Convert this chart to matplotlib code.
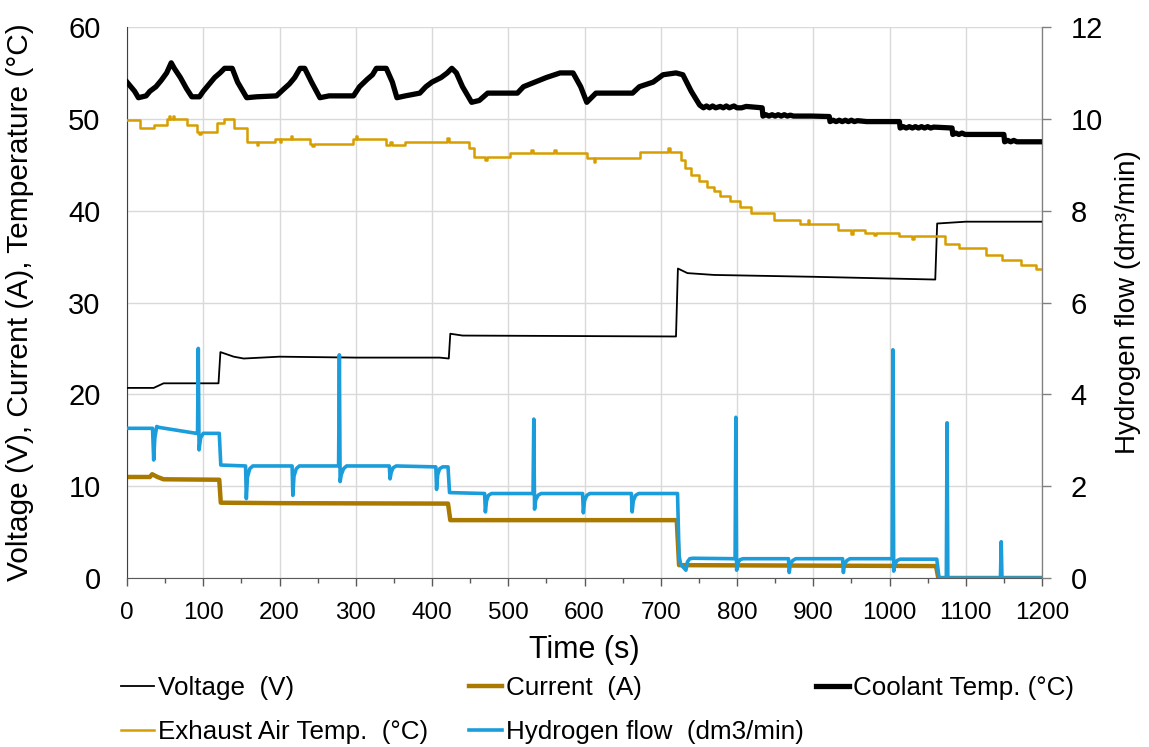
import matplotlib
matplotlib.use("Agg")
import matplotlib.pyplot as plt
from matplotlib.ticker import MultipleLocator

plt.rcParams['font.family'] = ['Liberation Sans', 'DejaVu Sans']

# ---------------- data ----------------
coolant_t = [0, 5, 10, 15, 25, 30, 38, 45, 52, 58, 62, 70, 78, 85, 95, 100, 108, 115, 122, 128,
             138, 145, 152, 157, 170, 196, 205, 213, 220, 227, 233, 242, 253, 265, 297, 305, 315,
             322, 327, 340, 348, 354, 365, 384, 392, 400, 412, 420, 426, 432, 440, 452, 462, 473,
             512, 520, 535, 550, 568, 585, 595, 603, 615, 663, 672, 690, 703, 720, 729, 740, 751,
             756, 760, 764, 768, 772, 778, 782, 786, 790, 796, 800, 806, 812, 833,
             834, 838, 842, 846, 850, 854, 858, 862, 866, 870, 874, 898, 921,
             922, 926, 930, 934, 938, 942, 946, 950, 954, 958, 970, 1013,
             1014, 1018, 1022, 1026, 1030, 1034, 1038, 1042, 1046, 1050, 1054, 1058, 1082,
             1083, 1087, 1091, 1095, 1099, 1150,
             1151, 1155, 1159, 1163, 1167, 1171, 1200]
coolant_v = [54.0, 53.5, 53.0, 52.3, 52.5, 53.0, 53.5, 54.2, 55.0, 56.1, 55.5, 54.5, 53.3, 52.4,
             52.4, 53.0, 53.8, 54.5, 55.0, 55.5, 55.5, 54.0, 53.0, 52.3, 52.4, 52.5, 53.2, 53.8,
             54.5, 55.5, 55.5, 54.0, 52.3, 52.5, 52.5, 53.5, 54.3, 54.8, 55.5, 55.5, 54.0, 52.3,
             52.5, 52.8, 53.5, 54.0, 54.5, 55.0, 55.5, 55.0, 53.5, 51.8, 52.0, 52.8, 52.8, 53.5,
             54.0, 54.5, 55.0, 55.0, 53.5, 51.8, 52.8, 52.8, 53.5, 54.0, 54.8, 55.0, 54.8, 53.0,
             51.5,
             51.2, 51.4, 51.2, 51.4, 51.2, 51.35, 51.2, 51.4, 51.2, 51.4, 51.2, 51.2, 51.35, 51.2,
             50.3, 50.45, 50.3, 50.45, 50.3, 50.45, 50.3, 50.45, 50.3, 50.4, 50.3, 50.3, 50.25,
             49.7, 49.85, 49.7, 49.85, 49.7, 49.85, 49.7, 49.85, 49.7, 49.8, 49.7, 49.7,
             49.0, 49.15, 49.0, 49.15, 49.0, 49.15, 49.0, 49.15, 49.0, 49.15, 49.0, 49.1, 49.0,
             48.3, 48.45, 48.3, 48.45, 48.3, 48.3,
             47.5, 47.65, 47.5, 47.65, 47.5, 47.5, 47.5]

exhaust_t = [0, 17, 35, 52, 55, 57, 60, 62, 79, 92, 95, 97, 118, 127, 140, 157, 170, 172, 194,
             200, 202, 215, 217, 240, 243, 245, 297, 300, 302, 340, 345, 347, 365, 420, 422,
             449, 455, 470, 472, 502, 530, 532, 560, 562, 603, 612, 614, 673, 710, 712,
             727, 732, 740, 750, 760, 770, 778, 791, 804, 818, 848, 883, 893, 895, 933, 950, 952,
             968, 980, 982, 1012, 1030, 1032, 1073, 1091, 1126, 1148, 1172, 1192, 1200]
exhaust_v = [49.9, 49.0, 49.3, 50.0, 50.3, 50.0, 50.3, 50.0, 49.3, 48.6, 48.3, 48.6, 49.5, 50.0,
             49.0, 47.5, 47.1, 47.5, 47.8, 47.5, 47.8, 48.1, 47.8, 47.3, 47.0, 47.3, 47.8, 48.1,
             47.8, 47.1, 47.5, 47.1, 47.5, 47.9, 47.5, 46.8, 45.8, 45.5, 45.8, 46.25, 46.6,
             46.25, 46.6, 46.25, 45.7, 45.3, 45.7, 46.4, 46.8, 46.4,
             45.5, 44.6, 43.9, 43.2, 42.6, 42.1, 41.6, 41.0, 40.45, 39.8, 39.0, 38.6, 39.0, 38.6,
             37.9, 37.5, 37.9, 37.6, 37.3, 37.6, 37.2, 36.9, 37.2, 36.4, 35.9, 35.2, 34.6, 34.1,
             33.7, 33.7]

voltage_t = [0, 35, 48, 120, 122.5, 140, 153, 200, 300, 410, 422, 424, 440, 720, 722.5, 735,
             770, 900, 1060, 1062.5, 1100, 1200]
voltage_v = [20.7, 20.7, 21.2, 21.2, 24.6, 24.1, 23.9, 24.1, 24.0, 24.0, 23.9, 26.6, 26.4, 26.3,
             33.7, 33.2, 33.0, 32.8, 32.5, 38.6, 38.8, 38.8]

current_t = [0, 30, 33, 40, 48, 121, 123, 200, 421, 424, 721, 724, 1061, 1064, 1200]
current_v = [11.0, 11.0, 11.3, 11.0, 10.75, 10.7, 8.2, 8.15, 8.1, 6.3, 6.3, 1.4, 1.3, 0.0, 0.0]

h2_t = [0, 33.5, 35, 36.5, 39, 42, 91, 92.5, 93.5, 94.5, 96.5, 100, 121, 123,
        155.5, 156.5, 158, 161, 165, 216.5, 217.5, 219, 222, 226,
        277.5, 278.5, 279.5, 281, 284, 288, 344, 345, 346.5, 349, 353,
        405, 406, 407.5, 410, 414, 421, 423,
        469, 470, 471.5, 474, 478, 532.5, 533.5, 534.5, 536, 539, 543,
        597.5, 598.5, 600, 603, 607, 661.5, 662.5, 664, 667, 671,
        722, 724, 726, 733, 735, 738, 742,
        797.5, 798.5, 799.5, 801, 804, 808, 867.5, 868.5, 870, 873, 877,
        938.5, 939.5, 941, 944, 948, 1003.5, 1004.5, 1005.5, 1007, 1010, 1014,
        1062, 1065, 1074.5, 1075.5, 1076.5, 1145.5, 1146.5, 1147.5, 1200]
h2_v = [3.26, 3.26, 2.57, 3.05, 3.3, 3.28, 3.15, 3.15, 5.0, 2.79, 3.05, 3.15, 3.15, 2.46,
        2.44, 1.73, 2.2, 2.38, 2.44, 2.44, 1.8, 2.22, 2.38, 2.44,
        2.44, 4.86, 2.1, 2.25, 2.38, 2.44, 2.44, 2.16, 2.3, 2.4, 2.44,
        2.42, 1.93, 2.25, 2.38, 2.42, 2.42, 1.86,
        1.84, 1.44, 1.68, 1.8, 1.84, 1.84, 3.46, 1.5, 1.7, 1.8, 1.84,
        1.84, 1.42, 1.68, 1.8, 1.84, 1.84, 1.44, 1.68, 1.8, 1.84,
        1.84, 0.5, 0.3, 0.17, 0.35, 0.42, 0.43,
        0.42, 3.5, 0.17, 0.33, 0.4, 0.42, 0.42, 0.12, 0.3, 0.38, 0.42,
        0.42, 0.12, 0.3, 0.38, 0.42, 0.42, 4.97, 0.15, 0.3, 0.38, 0.41,
        0.41, 0.0, 0.0, 3.38, 0.0, 0.0, 0.79, 0.0, 0.0]

labels = ["Voltage  (V)", "Current  (A)", "Coolant Temp. (°C)",
          "Exhaust Air Temp.  (°C)", "Hydrogen flow  (dm3/min)"]

# ---------------- figure ----------------
W, H = 1149, 747
fig = plt.figure(figsize=(W / 100, H / 100), dpi=100)
x0, x1, y0, y1 = 127, 1042, 27, 578
ax = fig.add_axes([x0 / W, 1 - y1 / H, (x1 - x0) / W, (y1 - y0) / H])
ax2 = ax.twinx()

grid_c = '#d9d9d9'
ax.set_xlim(0, 1200)
ax.set_ylim(0, 60)
ax2.set_ylim(0, 12)
ax.xaxis.set_major_locator(MultipleLocator(100))
ax.xaxis.set_minor_locator(MultipleLocator(50))
ax.yaxis.set_major_locator(MultipleLocator(10))
ax2.yaxis.set_major_locator(MultipleLocator(2))
ax.grid(True, which='major', color=grid_c, lw=1.0)
ax.set_axisbelow(True)

l_volt, = ax.plot(voltage_t, voltage_v, color='black', lw=1.3, zorder=3)
l_curr, = ax.plot(current_t, current_v, color='#a97900', lw=3.2, zorder=2)
l_cool, = ax.plot(coolant_t, coolant_v, color='black', lw=3.8, zorder=3,
                  solid_joinstyle='round')
l_exh, = ax.plot(exhaust_t, exhaust_v, color='#d69e00', lw=1.8, zorder=3,
                 drawstyle='steps-post')
l_h2, = ax2.plot(h2_t, h2_v, color='#1c9ddb', lw=2.6, zorder=3)

for a in (ax, ax2):
    a.spines['top'].set_visible(False)
ax.spines['left'].set_color('#404040')
ax.spines['bottom'].set_color('#595959')
ax2.spines['right'].set_color('#808080')
ax2.spines['left'].set_visible(False)
ax2.spines['bottom'].set_visible(False)

ax.tick_params(axis='y', length=0, pad=19, labelsize=21)
ax.tick_params(axis='x', which='major', direction='out', length=5.5, width=1,
               color='#595959', pad=12, labelsize=17.5)
ax.tick_params(axis='x', which='minor', direction='out', length=3.5, width=1,
               color='#595959')
ax2.tick_params(axis='y', direction='out', length=6.5, width=1, color='#808080',
                pad=14, labelsize=21)

ax.set_xlabel('Time (s)', fontsize=22, va='center')
ax.xaxis.set_label_coords(0.5, (y1 - 650) / (y1 - y0))
ax.set_ylabel('Voltage (V), Current (A), Temperature (°C)', fontsize=21.5, va='center')
ax.yaxis.set_label_coords((20 - x0) / (x1 - x0), 0.5)
ax2.set_ylabel('Hydrogen flow (dm³/min)', fontsize=20, va='center', rotation=90)
ax2.yaxis.set_label_coords((1128 - x0) / (x1 - x0), 0.5)

# legend: three columns, Excel-like equal spacing
cols = [([l_volt, l_exh], [labels[0], labels[3]], 121),
        ([l_curr, l_h2], [labels[1], labels[4]], 469),
        ([l_cool], [labels[2]], 816)]
for hs, ls, xl in cols:
    fig.legend(hs, ls, loc='upper left', bbox_to_anchor=(xl / W, 1 - 676 / H),
               frameon=False, fontsize=18.7, borderpad=0, borderaxespad=0,
               handlelength=1.27, handletextpad=0.16, labelspacing=0.78)

fig.savefig('out.png', dpi=100)
